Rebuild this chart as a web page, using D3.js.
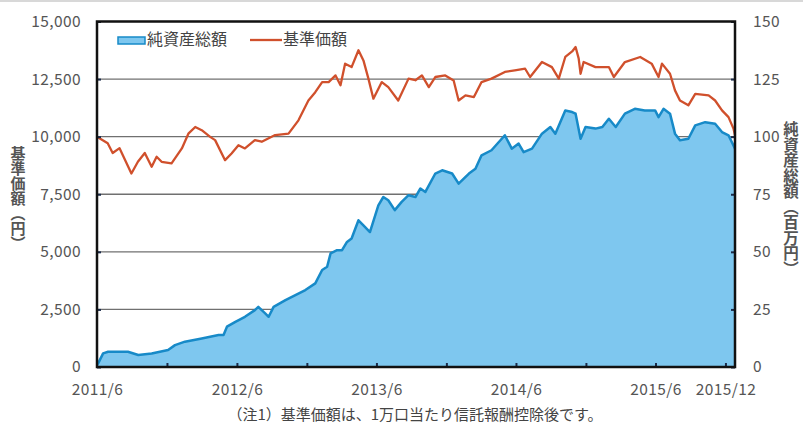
<!DOCTYPE html>
<html><head><meta charset="utf-8">
<script src="https://cdn.jsdelivr.net/npm/d3@7"></script>
<style>
body{margin:0;background:#fff;}
svg{display:block;}
text{font-family:"Noto Sans CJK JP","Liberation Sans",sans-serif;}
</style></head>
<body>
<svg id="c" width="803" height="426"></svg>
<script>
// 基準価額 (円)
const navDates = ["2011-06-01","2011-06-29","2011-07-12","2011-07-30","2011-08-30","2011-09-16","2011-10-04","2011-10-22","2011-11-04","2011-11-17","2011-12-13","2012-01-09","2012-01-26","2012-02-13","2012-03-01","2012-03-23","2012-04-05","2012-05-01","2012-05-18","2012-06-05","2012-06-22","2012-07-18","2012-08-05","2012-09-09","2012-10-14","2012-11-09","2012-12-05","2012-12-23","2013-01-10","2013-01-27","2013-02-14","2013-02-27","2013-03-11","2013-03-28","2013-04-15","2013-04-28","2013-05-11","2013-05-24","2013-06-15","2013-07-02","2013-07-28","2013-08-24","2013-09-11","2013-09-28","2013-10-16","2013-11-02","2013-11-28","2013-12-20","2014-01-02","2014-01-20","2014-02-11","2014-03-03","2014-03-29","2014-05-03","2014-05-29","2014-06-25","2014-07-08","2014-08-08","2014-09-03","2014-09-21","2014-10-08","2014-10-26","2014-11-04","2014-11-12","2014-11-17","2014-11-25","2014-12-26","2015-01-30","2015-02-12","2015-03-13","2015-04-22","2015-05-22","2015-06-09","2015-06-18","2015-07-09","2015-07-22","2015-08-04","2015-08-26","2015-09-13","2015-10-18","2015-11-04","2015-11-22","2015-12-09","2015-12-22","2015-12-26"];
const navValues = [10000,9710,9290,9500,8400,8910,9290,8690,9130,8910,8840,9490,10130,10420,10280,9990,9850,8980,9270,9630,9490,9850,9780,10070,10130,10710,11570,11930,12370,12370,12660,12230,13170,13020,13750,13310,12520,11650,12370,12150,11570,12520,12450,12660,12150,12590,12660,12440,11570,11790,11720,12370,12520,12810,12880,12950,12590,13240,13020,12520,13460,13700,13890,13400,12730,13240,13020,13020,12590,13240,13460,13170,12590,13170,12730,12010,11570,11360,11860,11790,11570,11140,10850,10350,10060];

// 純資産総額 (百万円)
const aumDates = ["2011-06-01","2011-06-04","2011-06-17","2011-06-30","2011-08-21","2011-09-17","2011-10-22","2011-12-04","2011-12-22","2012-01-17","2012-03-01","2012-04-14","2012-04-27","2012-05-06","2012-05-28","2012-06-22","2012-07-18","2012-07-27","2012-08-14","2012-08-23","2012-09-05","2012-10-06","2012-11-01","2012-11-27","2012-12-23","2013-01-10","2013-01-23","2013-02-01","2013-02-18","2013-03-03","2013-03-16","2013-03-28","2013-04-15","2013-04-28","2013-05-15","2013-06-06","2013-06-19","2013-07-02","2013-07-19","2013-08-06","2013-08-24","2013-09-11","2013-09-24","2013-10-07","2013-11-02","2013-11-20","2013-12-16","2014-01-02","2014-01-29","2014-02-15","2014-03-03","2014-03-29","2014-05-03","2014-05-21","2014-06-08","2014-06-21","2014-07-13","2014-08-08","2014-08-30","2014-09-12","2014-10-08","2014-10-26","2014-11-04","2014-11-17","2014-11-30","2014-12-26","2015-01-13","2015-01-30","2015-02-17","2015-03-13","2015-04-08","2015-05-04","2015-05-31","2015-06-09","2015-06-22","2015-07-09","2015-07-22","2015-08-04","2015-08-26","2015-09-13","2015-10-09","2015-11-04","2015-11-22","2015-12-09","2015-12-26"];
const aumValues = [1.0,1.6,5.9,6.6,6.6,5.2,5.9,7.4,9.5,11.0,12.4,13.9,13.9,17.5,19.6,21.8,24.7,26.1,23.3,21.8,26.1,29.0,31.2,33.4,36.3,42.1,43.5,49.3,50.7,50.7,54.3,55.8,63.7,61.5,58.6,70.2,73.8,72.4,68.1,71.7,74.6,73.8,77.5,76.0,84.0,85.4,84.0,79.6,84.0,86.1,91.9,94.1,100.6,94.8,97.0,93.3,94.8,101.3,104.2,101.3,111.4,110.7,110.0,99.1,104.2,103.5,104.2,107.8,104.2,110.0,112.1,111.4,111.4,108.5,112.1,110.0,101.3,98.4,99.1,104.9,106.3,105.6,102.0,100.6,94.8];

const leftTicks = [0,2500,5000,7500,10000,12500,15000];
const rightTicks = [0,25,50,75,100,125,150];
const xLabelDates = ["2011-06-01","2012-06-01","2013-06-01","2014-06-01","2015-06-01","2015-12-01"];
const xLabelTexts = ["2011/6","2012/6","2013/6","2014/6","2015/6","2015/12"];
const xTickDates = ["2011-12-01","2012-06-01","2012-12-01","2013-06-01","2013-12-01","2014-06-01","2014-12-01","2015-06-01","2015-12-01"];
const seriesNames = ["純資産総額","基準価額"];
const leftTitle = "基準価額（円）";
const rightTitle = "純資産総額（百万円）";
const footnote = "（注1）基準価額は、1万口当たり信託報酬控除後です。";

const parse = d3.timeParse("%Y-%m-%d");
const L = 97, R = 735, T = 21.5, B = 367;
const svg = d3.select("#c");

const x = d3.scaleTime().domain([parse("2011-06-01"), parse("2015-12-26")]).range([L, R]);
const yL = d3.scaleLinear().domain([0,15000]).range([B,T]);
const yR = d3.scaleLinear().domain([0,150]).range([B,T]);

// faint top line
svg.append("rect").attr("x",0).attr("y",0).attr("width",803).attr("height",2).attr("fill","#d8d8d8");

// gridlines
svg.append("g").selectAll("line").data(leftTicks.filter(d=>d>0 && d<15000)).join("line")
  .attr("x1",L).attr("x2",R).attr("y1",d=>yL(d)).attr("y2",d=>yL(d))
  .attr("stroke","#707070").attr("stroke-width",1.3);

// area
const aum = aumDates.map((d,i)=>({date:parse(d), v:aumValues[i]}));
svg.append("path").datum(aum)
  .attr("d", d3.area().x(d=>x(d.date)).y0(B).y1(d=>yR(d.v)))
  .attr("fill","#7ec7ef");
svg.append("path").datum(aum)
  .attr("d", d3.line().x(d=>x(d.date)).y(d=>yR(d.v)))
  .attr("fill","none").attr("stroke","#178ac8").attr("stroke-width",2.5).attr("stroke-linejoin","round");

// nav line
const nav = navDates.map((d,i)=>({date:parse(d), v:navValues[i]}));
svg.append("path").datum(nav)
  .attr("d", d3.line().x(d=>x(d.date)).y(d=>yL(d.v)))
  .attr("fill","none").attr("stroke","#d0502c").attr("stroke-width",2.3).attr("stroke-linejoin","round");

// axes (inward ticks)
const axL = svg.append("g").attr("transform",`translate(${L},0)`)
  .call(d3.axisLeft(yL).tickValues(leftTicks).tickSize(-4).tickPadding(16).tickFormat(d3.format(",")));
const axR = svg.append("g").attr("transform",`translate(${R},0)`)
  .call(d3.axisRight(yR).tickValues(rightTicks).tickSize(-4).tickPadding(18).tickFormat(d3.format("d")));
const axB = svg.append("g").attr("transform",`translate(0,${B})`)
  .call(d3.axisBottom(x).tickValues(xTickDates.map(parse)).tickSize(-4).tickFormat(""));
const axBL = svg.append("g").attr("transform",`translate(0,${B})`)
  .call(d3.axisBottom(x).tickValues(xLabelDates.map(parse)).tickSize(0).tickPadding(17)
    .tickFormat((d,i)=>xLabelTexts[i]));
[axL,axR,axB,axBL].forEach(g=>{
  g.select(".domain").remove();
  g.selectAll(".tick line").attr("stroke","#1a2a4a").attr("stroke-width",2);
  g.selectAll("text").attr("font-family","'Liberation Sans',Arial,sans-serif").attr("font-size",15.5)
    .attr("fill","#555").attr("letter-spacing",0.4);
});

// frame
svg.append("rect").attr("x",L).attr("y",T).attr("width",R-L).attr("height",B-T)
  .attr("fill","none").attr("stroke","#111").attr("stroke-width",2.5);

// legend
svg.append("rect").attr("x",118).attr("y",37).attr("width",27).attr("height",7)
  .attr("fill","#7ec7ef").attr("stroke","#178ac8").attr("stroke-width",1.5);
svg.append("text").attr("x",147).attr("y",41).attr("dominant-baseline","middle")
  .attr("font-size",16).attr("fill","#444").text(seriesNames[0]);
svg.append("line").attr("x1",250).attr("x2",282).attr("y1",40).attr("y2",40)
  .attr("stroke","#d0502c").attr("stroke-width",2.3);
svg.append("text").attr("x",283).attr("y",41).attr("dominant-baseline","middle")
  .attr("font-size",16).attr("fill","#444").text(seriesNames[1]);

// axis titles (vertical)
svg.append("text").attr("x",18).attr("y",198).attr("text-anchor","middle")
  .style("writing-mode","vertical-rl").attr("font-size",15).attr("font-weight","bold").attr("fill","#555")
  .text(leftTitle);
svg.append("text").attr("x",791).attr("y",199).attr("text-anchor","middle")
  .style("writing-mode","vertical-rl").attr("font-size",15.5).attr("font-weight","bold").attr("fill","#555")
  .text(rightTitle);

// footnote
svg.append("text").attr("x",415).attr("y",416).attr("text-anchor","middle").attr("dominant-baseline","middle")
  .attr("font-size",15).attr("fill","#444").text(footnote);
</script>
</body></html>
